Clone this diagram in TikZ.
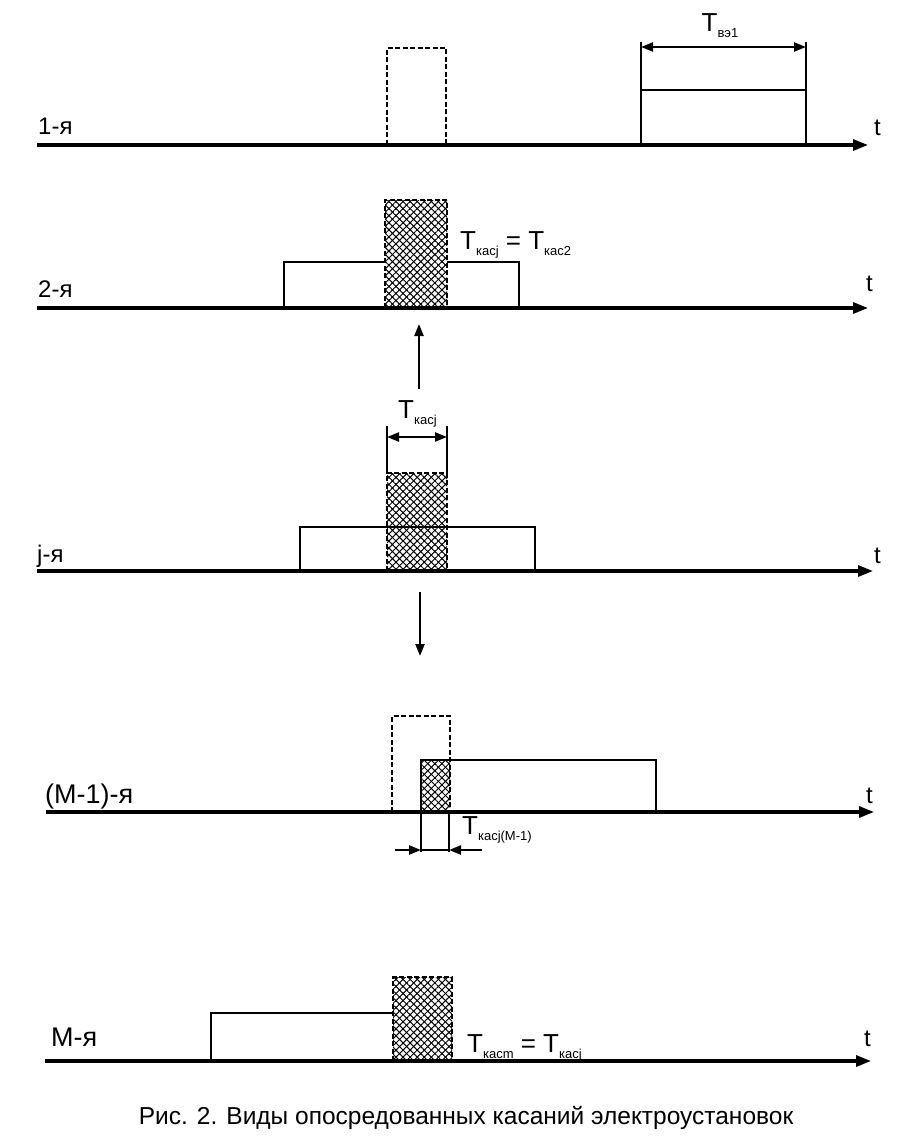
\documentclass[tikz,border=0pt]{standalone}
\usepackage{fontspec}
\setmainfont{Liberation Sans}
\usetikzlibrary{arrows.meta,patterns.meta}
\newcommand\Tsub[1]{T\raisebox{-6pt}{\fontsize{13}{14}\selectfont #1}}
\tikzset{
  axisline/.style={line width=3.1pt,-{Triangle[length=15pt,width=11pt]}},
  pulse/.style={line width=2.7pt},
  dashbox/.style={line width=2.7pt,dash pattern=on 5pt off 2.5pt},
  dimline/.style={line width=2.3pt,{Triangle[length=12pt,width=9pt]}-{Triangle[length=12pt,width=9pt]}},
  oneway/.style={line width=2.3pt,-{Triangle[length=12pt,width=9pt]}},
  hatchA/.style={pattern={Lines[angle=45,distance=5pt,line width=1pt]}},
  hatchB/.style={pattern={Lines[angle=-45,distance=5pt,line width=1pt]}},
  rowlbl/.style={font=\fontsize{24}{26}\selectfont,inner sep=0pt},
  biglbl/.style={font=\fontsize{27}{29}\selectfont,inner sep=0pt},
  tlbl/.style={font=\fontsize{24}{26}\selectfont,inner sep=0pt},
  Tlbl/.style={font=\fontsize{26}{28}\selectfont,inner sep=0pt},
  captext/.style={font=\fontsize{24.5}{26}\selectfont,inner sep=0pt}
}
\begin{document}
\begin{tikzpicture}[x=1pt,y=-1pt]
\useasboundingbox (0,0) rectangle (907,1142);
\fill[white] (0,0) rectangle (907,1142);

% ---------- row 1 ----------
\coordinate (a1s) at (37,145);
\coordinate (a1e) at (868,145);
\draw[dashbox] (387,145) -- (387,48) -- (446,48) -- (446,145);
\draw[pulse] (641,145) -- (641,42) (806,145) -- (806,42) (641,90) -- (806,90);
\coordinate (v1l) at (641,47);
\coordinate (v1r) at (806,47);
\draw[dimline] (v1l) -- (v1r);
\node[Tlbl,anchor=base] (tv) at (720,32) {\Tsub{вэ1}};
\draw[axisline] (a1s) -- (a1e);
\node[rowlbl,anchor=base west] (l1) at (38,135) {1-я};
\node[tlbl,anchor=base west] (t1) at (874,136) {t};

% ---------- row 2 ----------
\coordinate (a2s) at (37,308);
\coordinate (a2e) at (868,308);
\draw[pulse] (284,308) -- (284,262) -- (385,262) (447,262) -- (519,262) -- (519,308);
\fill[hatchA] (385,200) rectangle (447,308);
\fill[hatchB] (385,200) rectangle (447,308);
\draw[dashbox] (385,308) rectangle (447,200);
\node[Tlbl,anchor=base west] (t2eq) at (460,249) {\Tsub{касj} = \Tsub{кас2}};
\draw[axisline] (a2s) -- (a2e);
\node[rowlbl,anchor=base west] (l2) at (38,297) {2-я};
\node[tlbl,anchor=base west] (t2) at (866,291) {t};

% ---------- up arrow ----------
\coordinate (up0) at (419,389);
\coordinate (up1) at (419,324);
\draw[oneway] (up0) -- (up1);

% ---------- row j ----------
\coordinate (ajs) at (37,571);
\coordinate (aje) at (873,571);
\node[Tlbl,anchor=base west] (tj) at (398,418) {\Tsub{касj}};
\draw[pulse] (387,426) -- (387,473) (447,426) -- (447,473);
\coordinate (djl) at (387,437);
\coordinate (djr) at (447,437);
\draw[dimline] (djl) -- (djr);
\draw[pulse] (300,571) -- (300,527) -- (387,527) (447,527) -- (535,527) -- (535,571);
\fill[hatchA] (387,473) rectangle (447,571);
\fill[hatchB] (387,473) rectangle (447,571);
\draw[dashbox] (387,571) rectangle (447,473);
\draw[pulse] (387,527) -- (447,527);
\draw[axisline] (ajs) -- (aje);
\node[rowlbl,anchor=base west] (lj) at (37,562) {j-я};
\node[tlbl,anchor=base west] (tjt) at (874,563) {t};

% ---------- down arrow ----------
\coordinate (dn0) at (420,592);
\coordinate (dn1) at (420,656);
\draw[oneway] (dn0) -- (dn1);

% ---------- row M-1 ----------
\coordinate (ams) at (46,812);
\coordinate (ame) at (874,812);
\draw[dashbox] (392,812) -- (392,716) -- (450,716) -- (450,812);
\fill[hatchA] (421,760) rectangle (450,812);
\fill[hatchB] (421,760) rectangle (450,812);
\draw[pulse] (421,812) -- (421,760) -- (656,760) -- (656,812);
\draw[pulse] (421,812) -- (421,852) (449,812) -- (449,852);
\coordinate (mL0) at (395,850);
\coordinate (mL1) at (421,850);
\coordinate (mR0) at (482,850);
\coordinate (mR1) at (449,850);
\draw[oneway] (mL0) -- (mL1);
\draw[oneway] (mR0) -- (mR1);
\draw[pulse] (421,850) -- (449,850);
\node[Tlbl,anchor=base west] (tm1) at (462,834) {\Tsub{касj(М-1)}};
\draw[axisline] (ams) -- (ame);
\node[biglbl,anchor=base west] (lm1) at (45,803) {(М-1)-я};
\node[tlbl,anchor=base west] (tm1t) at (866,803) {t};

% ---------- row M ----------
\coordinate (aMs) at (45,1061);
\coordinate (aMe) at (871,1061);
\draw[pulse] (211,1061) -- (211,1013) -- (393,1013);
\fill[hatchA] (393,977) rectangle (452,1061);
\fill[hatchB] (393,977) rectangle (452,1061);
\draw[dashbox] (393,1061) rectangle (452,977);
\node[Tlbl,anchor=base west] (tMeq) at (467,1052) {\Tsub{касm} = \Tsub{касj}};
\draw[axisline] (aMs) -- (aMe);
\node[biglbl,anchor=base west] (lM) at (51,1046) {М-я};
\node[tlbl,anchor=base west] (tMt) at (864,1046) {t};

% ---------- caption ----------
\node[captext,anchor=base] (caption) at (466,1124) {Рис. 2. Виды опосредованных касаний электроустановок};
\end{tikzpicture}
\end{document}
